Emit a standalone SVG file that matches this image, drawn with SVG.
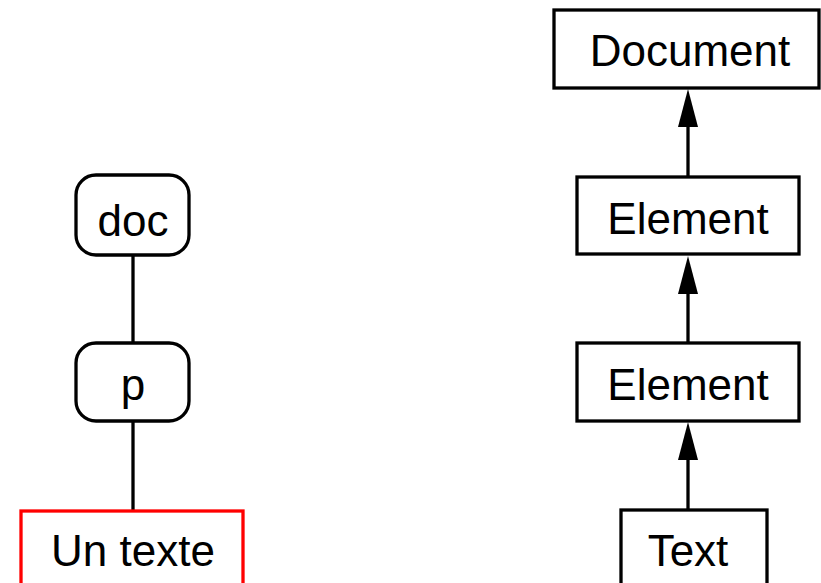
<svg xmlns="http://www.w3.org/2000/svg" width="821" height="583" viewBox="0 0 821 583">
<style>
.box{fill:#fff;stroke:#000;stroke-width:3.3}
.red{fill:#fff;stroke:#f00;stroke-width:3.3}
.lbl{font-family:"Liberation Sans",Arial,sans-serif;font-size:44px;fill:#000;text-anchor:middle}
.edge{stroke:#000;stroke-width:3.3;fill:none}
</style>
<defs>
<marker id="ah" markerUnits="userSpaceOnUse" markerWidth="38" markerHeight="20" refX="0" refY="10" viewBox="0 0 38 20" orient="auto">
<path d="M0,0 L38,10 L0,20 Z" fill="#000"/>
</marker>
</defs>
<g id="connectors">
<line class="edge" x1="133" y1="255" x2="133" y2="343"/>
<line class="edge" x1="133" y1="421" x2="133" y2="511"/>
<line class="edge" x1="688" y1="177" x2="688" y2="127" marker-end="url(#ah)"/>
<line class="edge" x1="688" y1="343" x2="688" y2="294" marker-end="url(#ah)"/>
<line class="edge" x1="688" y1="510" x2="688" y2="460" marker-end="url(#ah)"/>
</g>
<g id="doc"><rect class="box" x="76" y="175" width="113" height="80" rx="20"/><text class="lbl" x="133" y="236">doc</text></g>
<g id="p"><rect class="box" x="76" y="343" width="113" height="78" rx="20"/><text class="lbl" x="133" y="400">p</text></g>
<g id="untexte"><rect class="red" x="21" y="511" width="222" height="90"/><text class="lbl" x="133" y="566">Un texte</text></g>
<g id="document"><rect class="box" x="554" y="10" width="265" height="78"/><text class="lbl" x="690" y="66">Document</text></g>
<g id="element1"><rect class="box" x="577" y="177" width="222" height="77"/><text class="lbl" x="688" y="234">Element</text></g>
<g id="element2"><rect class="box" x="577" y="343" width="222" height="78"/><text class="lbl" x="688" y="400">Element</text></g>
<g id="text"><rect class="box" x="621" y="510" width="146" height="90"/><text class="lbl" x="688" y="566">Text</text></g>
</svg>
